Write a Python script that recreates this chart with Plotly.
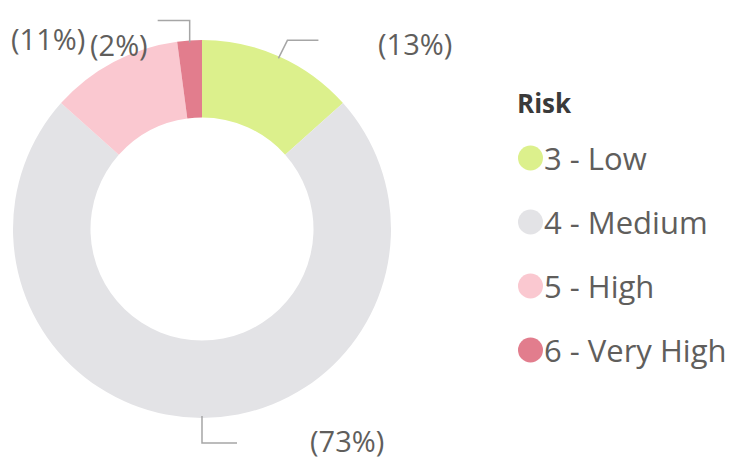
import math
import plotly.graph_objects as go

# ---- data ----
categories = ["3 - Low", "4 - Medium", "5 - High", "6 - Very High"]
values = [13.4, 73.2, 11.3, 2.1]
colors = ["#DCF08C", "#E3E3E6", "#FAC8D0", "#E27D8D"]
legend_title = "Risk"

W, H = 731, 459
FONT = "Open Sans, Noto Sans, sans-serif"
TXT = "#605E5C"

def px(x):
    return x / W

def py(y):
    return 1 - y / H

# donut geometry (pixels)
cx, cy, R = 202, 229, 189

fig = go.Figure(go.Pie(
    labels=categories,
    values=values,
    marker=dict(colors=colors, line=dict(width=0)),
    hole=0.59,
    sort=False,
    direction="clockwise",
    rotation=0,
    textinfo="none",
    hoverinfo="label+percent",
    showlegend=False,
    domain=dict(x=[px(cx - R), px(cx + R)], y=[py(cy + R), py(cy - R)]),
))

total = sum(values)
# label layout: (leader offsets from start point, text anchor x, y, xanchor)
label_layout = [
    ([(9, -18), (40, -18)], 376, 43, "left"),
    ([(0, 27), (35, 27)], 308, 440, "left"),
    ([], 87, 38, "right"),
    ([(0, -22), (-32, -22)], 150, 45, "right"),
]

annotations = []
shapes = []
cum = 0
for v, (offs, tx, ty, xa) in zip(values, label_layout):
    mid = (cum + v / 2) / total * 2 * math.pi
    cum += v
    sx = cx + (R - 2) * math.sin(mid)
    sy = cy - (R - 2) * math.cos(mid)
    if offs:
        pts = [(sx, sy)] + [(sx + dx, sy + dy) for dx, dy in offs]
        path = "M " + " L ".join(f"{px(x):.5f},{py(y):.5f}" for x, y in pts)
        shapes.append(dict(type="path", xref="paper", yref="paper", path=path,
                           line=dict(color="#A6A6A6", width=1.5)))
    pct = round(v / total * 100)
    annotations.append(dict(x=px(tx), y=py(ty), xref="paper", yref="paper",
                            text=f"({pct}%)", showarrow=False, xanchor=xa,
                            yanchor="middle",
                            font=dict(family=FONT, size=29, color=TXT)))

# legend (manual, to match spacing)
annotations.append(dict(x=px(515), y=py(103), xref="paper", yref="paper",
                        text=f"<b>{legend_title}</b>", showarrow=False,
                        xanchor="left", yanchor="middle",
                        font=dict(family=FONT, size=26, color="#3A3A3A")))
leg_y0, leg_dy = 158, 64
for i, (cat, col) in enumerate(zip(categories, colors)):
    yy = leg_y0 + i * leg_dy
    shapes.append(dict(type="circle", xref="paper", yref="paper",
                       x0=px(518), x1=px(543), y0=py(yy + 12.5), y1=py(yy - 12.5),
                       fillcolor=col, line=dict(width=0)))
    annotations.append(dict(x=px(542), y=py(yy), xref="paper", yref="paper",
                            text=cat, showarrow=False, xanchor="left",
                            yanchor="middle",
                            font=dict(family=FONT, size=31, color=TXT)))

fig.update_layout(
    width=W, height=H,
    margin=dict(l=0, r=0, t=0, b=0),
    paper_bgcolor="white", plot_bgcolor="white",
    annotations=annotations, shapes=shapes,
)

fig.write_html("out.html", config={"displayModeBar": False},
               post_script="document.body.style.margin='0';document.body.style.overflow='hidden';")
